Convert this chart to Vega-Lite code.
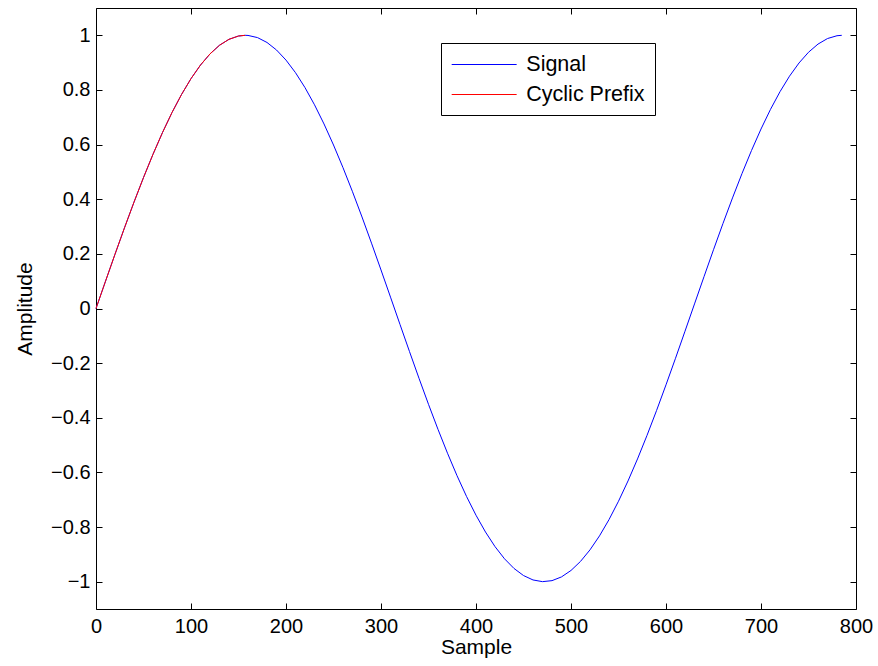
{
  "$schema": "https://vega.github.io/schema/vega-lite/v6.json",
  "width": 760,
  "height": 601,
  "autosize": {"type": "none"},
  "padding": {"left": 96, "top": 8, "right": 22, "bottom": 57},
  "background": "white",
  "config": {
    "font": "Liberation Sans",
    "view": {"stroke": "black", "strokeWidth": 1},
    "axis": {
      "grid": false,
      "domain": false,
      "tickColor": "black",
      "tickSize": -6,
      "tickWidth": 1,
      "labelColor": "black",
      "labelFontSize": 20,
      "labelFlush": false,
      "labelOverlap": false,
      "titleFontSize": 21,
      "titleFontWeight": "normal",
      "titleColor": "black"
    }
  },
  "datasets": {
    "signal": [
      {"sample": 0, "amp": 0, "series": "Signal"},
      {"sample": 10, "amp": 0.0998, "series": "Signal"},
      {"sample": 20, "amp": 0.1987, "series": "Signal"},
      {"sample": 30, "amp": 0.2955, "series": "Signal"},
      {"sample": 40, "amp": 0.3894, "series": "Signal"},
      {"sample": 50, "amp": 0.4794, "series": "Signal"},
      {"sample": 60, "amp": 0.5646, "series": "Signal"},
      {"sample": 70, "amp": 0.6442, "series": "Signal"},
      {"sample": 80, "amp": 0.7174, "series": "Signal"},
      {"sample": 90, "amp": 0.7833, "series": "Signal"},
      {"sample": 100, "amp": 0.8415, "series": "Signal"},
      {"sample": 110, "amp": 0.8912, "series": "Signal"},
      {"sample": 120, "amp": 0.932, "series": "Signal"},
      {"sample": 130, "amp": 0.9636, "series": "Signal"},
      {"sample": 140, "amp": 0.9854, "series": "Signal"},
      {"sample": 150, "amp": 0.9975, "series": "Signal"},
      {"sample": 157, "amp": 1.0, "series": "Signal"},
      {"sample": 160, "amp": 0.9996, "series": "Signal"},
      {"sample": 170, "amp": 0.9917, "series": "Signal"},
      {"sample": 180, "amp": 0.9738, "series": "Signal"},
      {"sample": 190, "amp": 0.9463, "series": "Signal"},
      {"sample": 200, "amp": 0.9093, "series": "Signal"},
      {"sample": 210, "amp": 0.8632, "series": "Signal"},
      {"sample": 220, "amp": 0.8085, "series": "Signal"},
      {"sample": 230, "amp": 0.7457, "series": "Signal"},
      {"sample": 240, "amp": 0.6755, "series": "Signal"},
      {"sample": 250, "amp": 0.5985, "series": "Signal"},
      {"sample": 260, "amp": 0.5155, "series": "Signal"},
      {"sample": 270, "amp": 0.4274, "series": "Signal"},
      {"sample": 280, "amp": 0.335, "series": "Signal"},
      {"sample": 290, "amp": 0.2392, "series": "Signal"},
      {"sample": 300, "amp": 0.1411, "series": "Signal"},
      {"sample": 310, "amp": 0.0416, "series": "Signal"},
      {"sample": 320, "amp": -0.0584, "series": "Signal"},
      {"sample": 330, "amp": -0.1577, "series": "Signal"},
      {"sample": 340, "amp": -0.2555, "series": "Signal"},
      {"sample": 350, "amp": -0.3508, "series": "Signal"},
      {"sample": 360, "amp": -0.4425, "series": "Signal"},
      {"sample": 370, "amp": -0.5298, "series": "Signal"},
      {"sample": 380, "amp": -0.6119, "series": "Signal"},
      {"sample": 390, "amp": -0.6878, "series": "Signal"},
      {"sample": 400, "amp": -0.7568, "series": "Signal"},
      {"sample": 410, "amp": -0.8183, "series": "Signal"},
      {"sample": 420, "amp": -0.8716, "series": "Signal"},
      {"sample": 430, "amp": -0.9162, "series": "Signal"},
      {"sample": 440, "amp": -0.9516, "series": "Signal"},
      {"sample": 450, "amp": -0.9775, "series": "Signal"},
      {"sample": 460, "amp": -0.9937, "series": "Signal"},
      {"sample": 470, "amp": -0.9999, "series": "Signal"},
      {"sample": 480, "amp": -0.9962, "series": "Signal"},
      {"sample": 490, "amp": -0.9825, "series": "Signal"},
      {"sample": 500, "amp": -0.9589, "series": "Signal"},
      {"sample": 510, "amp": -0.9258, "series": "Signal"},
      {"sample": 520, "amp": -0.8835, "series": "Signal"},
      {"sample": 530, "amp": -0.8323, "series": "Signal"},
      {"sample": 540, "amp": -0.7728, "series": "Signal"},
      {"sample": 550, "amp": -0.7055, "series": "Signal"},
      {"sample": 560, "amp": -0.6313, "series": "Signal"},
      {"sample": 570, "amp": -0.5507, "series": "Signal"},
      {"sample": 580, "amp": -0.4646, "series": "Signal"},
      {"sample": 590, "amp": -0.3739, "series": "Signal"},
      {"sample": 600, "amp": -0.2794, "series": "Signal"},
      {"sample": 610, "amp": -0.1822, "series": "Signal"},
      {"sample": 620, "amp": -0.0831, "series": "Signal"},
      {"sample": 630, "amp": 0.0168, "series": "Signal"},
      {"sample": 640, "amp": 0.1165, "series": "Signal"},
      {"sample": 650, "amp": 0.2151, "series": "Signal"},
      {"sample": 660, "amp": 0.3115, "series": "Signal"},
      {"sample": 670, "amp": 0.4048, "series": "Signal"},
      {"sample": 680, "amp": 0.4941, "series": "Signal"},
      {"sample": 690, "amp": 0.5784, "series": "Signal"},
      {"sample": 700, "amp": 0.657, "series": "Signal"},
      {"sample": 710, "amp": 0.729, "series": "Signal"},
      {"sample": 720, "amp": 0.7937, "series": "Signal"},
      {"sample": 730, "amp": 0.8504, "series": "Signal"},
      {"sample": 740, "amp": 0.8987, "series": "Signal"},
      {"sample": 750, "amp": 0.938, "series": "Signal"},
      {"sample": 760, "amp": 0.9679, "series": "Signal"},
      {"sample": 770, "amp": 0.9882, "series": "Signal"},
      {"sample": 780, "amp": 0.9985, "series": "Signal"},
      {"sample": 785, "amp": 1.0, "series": "Signal"}
    ],
    "prefix": [
      {"sample": 0, "amp": 0, "series": "Cyclic Prefix"},
      {"sample": 10, "amp": 0.0998, "series": "Cyclic Prefix"},
      {"sample": 20, "amp": 0.1987, "series": "Cyclic Prefix"},
      {"sample": 30, "amp": 0.2955, "series": "Cyclic Prefix"},
      {"sample": 40, "amp": 0.3894, "series": "Cyclic Prefix"},
      {"sample": 50, "amp": 0.4794, "series": "Cyclic Prefix"},
      {"sample": 60, "amp": 0.5646, "series": "Cyclic Prefix"},
      {"sample": 70, "amp": 0.6442, "series": "Cyclic Prefix"},
      {"sample": 80, "amp": 0.7174, "series": "Cyclic Prefix"},
      {"sample": 90, "amp": 0.7833, "series": "Cyclic Prefix"},
      {"sample": 100, "amp": 0.8415, "series": "Cyclic Prefix"},
      {"sample": 110, "amp": 0.8912, "series": "Cyclic Prefix"},
      {"sample": 120, "amp": 0.932, "series": "Cyclic Prefix"},
      {"sample": 130, "amp": 0.9636, "series": "Cyclic Prefix"},
      {"sample": 140, "amp": 0.9854, "series": "Cyclic Prefix"},
      {"sample": 150, "amp": 0.9975, "series": "Cyclic Prefix"},
      {"sample": 157, "amp": 1.0, "series": "Cyclic Prefix"}
    ]
  },
  "layer": [
    {
      "data": {"name": "signal"},
      "mark": {"type": "line", "strokeWidth": 1},
      "encoding": {
        "x": {
          "field": "sample", "type": "quantitative",
          "scale": {"domain": [0, 800], "nice": false, "zero": false},
          "axis": {"orient": "bottom", "title": "Sample", "values": [0,100,200,300,400,500,600,700,800], "labelPadding": 13.5, "titlePadding": 0}
        },
        "y": {
          "field": "amp", "type": "quantitative",
          "scale": {"domain": [-1.1, 1.1], "nice": false, "zero": false},
          "axis": {"orient": "left", "title": "Amplitude", "values": [-1,-0.8,-0.6,-0.4,-0.2,0,0.2,0.4,0.6,0.8,1], "format": "~g", "labelPadding": 12, "titlePadding": 15}
        },
        "color": {
          "field": "series", "type": "nominal",
          "scale": {"domain": ["Signal", "Cyclic Prefix"], "range": ["#0000ff", "#ff0000"]},
          "legend": {
            "title": null,
            "orient": "none",
            "legendX": 345,
            "legendY": 35,
            "symbolType": "M-1,0H5",
            "symbolSize": 469,
            "symbolStrokeWidth": 1,
            "labelFontSize": 21.5,
            "labelColor": "black",
            "labelOffset": 52.3,
            "rowPadding": 8,
            "padding": 10,
            "strokeColor": "black",
            "fillColor": "white"
          }
        }
      }
    },
    {
      "data": {"name": "prefix"},
      "mark": {"type": "line", "strokeWidth": 1},
      "encoding": {
        "x": {
          "field": "sample", "type": "quantitative",
          "axis": {"orient": "top", "title": null, "labels": false, "values": [0,100,200,300,400,500,600,700,800]}
        },
        "y": {
          "field": "amp", "type": "quantitative",
          "axis": {"orient": "right", "title": null, "labels": false, "values": [-1,-0.8,-0.6,-0.4,-0.2,0,0.2,0.4,0.6,0.8,1]}
        },
        "color": {"field": "series", "type": "nominal"}
      }
    }
  ],
  "resolve": {"axis": {"x": "independent", "y": "independent"}}
}
